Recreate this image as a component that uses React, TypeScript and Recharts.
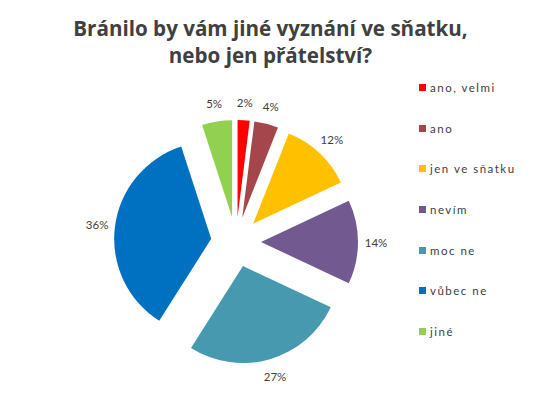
import { Pie, PieChart, Sector, Cell, Legend } from 'recharts';

const categories = ['ano, velmi', 'ano', 'jen ve sňatku', 'nevím', 'moc ne', 'vůbec ne', 'jiné'];
const shares = [2, 4, 12, 14, 27, 36, 5];
const colors = ['#FF0000', '#A4464B', '#FFC000', '#725A91', '#4799AF', '#0070C0', '#92D050'];

const data = categories.map((name, i) => ({ name, value: shares[i] }));

const RADIAN = Math.PI / 180;
const EXPLODE = 25;
const LABEL_R = 140;

// every slice pushed out from the centre along its own mid angle
const ExplodedSlice = (props: any) => {
  const { cx, cy, midAngle } = props;
  const dx = EXPLODE * Math.cos(-midAngle * RADIAN);
  const dy = EXPLODE * Math.sin(-midAngle * RADIAN);
  return <Sector {...props} cx={cx + dx} cy={cy + dy} stroke="none" />;
};

const renderLabel = ({ cx, cy, midAngle, value }: any) => {
  const x = cx + LABEL_R * Math.cos(-midAngle * RADIAN);
  const y = cy + LABEL_R * Math.sin(-midAngle * RADIAN);
  return (
    <text x={x} y={y} textAnchor="middle" dominantBaseline="central" fill="#404040" fontSize={11.5} fontFamily="Lato, sans-serif">
      {`${value}%`}
    </text>
  );
};

const renderLegend = () => (
  <div style={{ fontFamily: 'Lato, sans-serif', fontSize: 11.5, color: '#404040', letterSpacing: 1.5 }}>
    {categories.map((name, i) => (
      <div key={name} style={{ height: 40.7, display: 'flex', alignItems: 'center' }}>
        <span style={{ display: 'inline-block', width: 7, height: 7, background: colors[i], marginRight: 4 }} />
        <span>{name}</span>
      </div>
    ))}
  </div>
);

export default function App() {
  return (
    <div style={{ position: 'absolute', left: 0, top: 0, width: 541, height: 396, background: '#fff' }}>
      <div
        style={{
          position: 'absolute',
          left: 0,
          top: 15,
          width: 541,
          textAlign: 'center',
          fontFamily: '"Open Sans", sans-serif',
          fontWeight: 'bold',
          fontSize: 20.6,
          lineHeight: '27px',
          color: '#404040',
        }}
      >
        Bránilo by vám jiné vyznání ve sňatku,
        <br />
        nebo jen přátelství?
      </div>
      <PieChart width={541} height={396} margin={{ top: 0, right: 0, bottom: 0, left: 0 }}>
        <Pie
          data={data}
          dataKey="value"
          nameKey="name"
          cx={236}
          cy={242}
          outerRadius={97}
          startAngle={90}
          endAngle={-270}
          stroke="none"
          shape={ExplodedSlice}
          activeShape={ExplodedSlice}
          label={renderLabel}
          labelLine={false}
          isAnimationActive={false}
        >
          {data.map((d, i) => (
            <Cell key={d.name} fill={colors[i]} />
          ))}
        </Pie>
        <Legend
          layout="vertical"
          verticalAlign="top"
          align="right"
          content={renderLegend}
          wrapperStyle={{ left: 419, top: 67, width: 120 }}
        />
      </PieChart>
    </div>
  );
}
